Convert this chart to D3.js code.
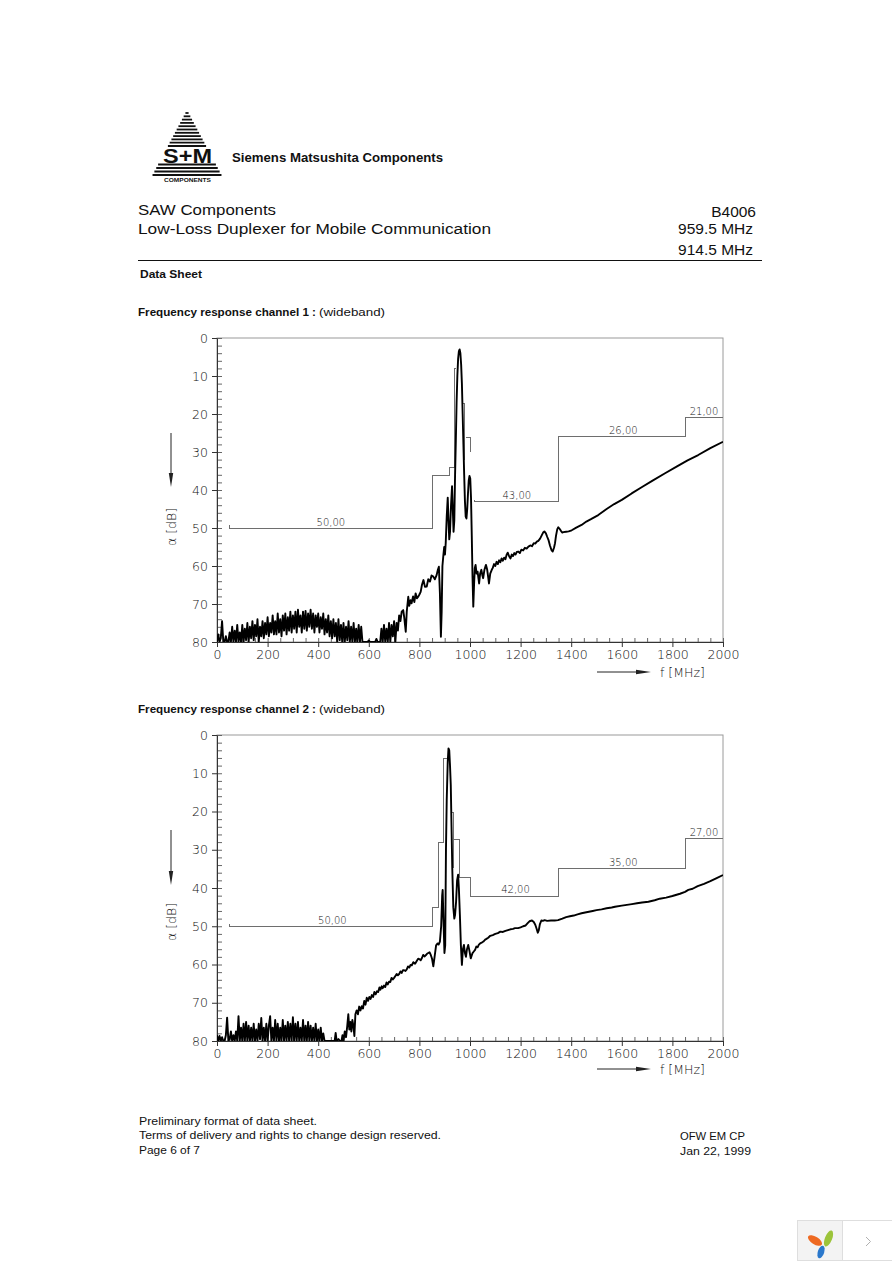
<!DOCTYPE html>
<html><head><meta charset="utf-8">
<script src="https://cdn.jsdelivr.net/npm/d3@7"></script>
<style>
html,body{margin:0;padding:0;background:#fff;}
svg{display:block;}
</style></head><body>
<script>
// ---------------- DATA ----------------
const yTicks = [0,10,20,30,40,50,60,70,80];
const xTicks = [0,200,400,600,800,1000,1200,1400,1600,1800,2000];

// Channel 1: noise floor samples every 5 MHz from 0 to 705 MHz (attenuation dB)
const ch1NoiseStep = 5;
const ch1NoiseLoss = [
80,78,80,79,74.5,80,80,78.5,80,80,77.5,80,76,80,77,80,75.5,80,77.5,80,
75.5,80,76.5,79.5,75,80,76,79,74.5,79.5,75.5,78.5,74,80,76,78.5,74.5,79,75,78,
73.5,78.5,75,77.5,73,78,74.5,78,72.5,77.5,74,78.5,73,77,72.5,78,73.5,77,72,77.5,
73,76.5,72,77.5,71.5,76,73,77.5,72,76.5,71.8,77,72.5,76,71.5,76.5,72.5,77.5,73,76,
72.5,77.5,73.5,76.5,72.5,78,74,77.5,73,78.5,74.5,79,74,78.5,75,80,74,79.5,75.5,80,
75,80,76,79.5,74.5,80,76,80,75,80,76.5,80,75.5,80,76,80,80,80,80,80,
79.6,80,80,80,80,80,79.2,80,80,80,76.5,80,75.5,80,76.5,80,75,80,75.5,78.5,74.5,80
];
// Channel 1: response above 705 MHz [MHz, dB]
const ch1Points = [
[710,75],[715,77],[720,73],[725,74.5],[730,72],[736,71.6],[740,73.5],[746,77.3],[750,72],[756,68.1],
[760,70.5],[765,69],[769,69.8],[775,68],[780,69.5],[785,67.2],[790,68.5],[796,68],[800,67.5],[805,66.8],
[810,65],[816,63.7],[822,65.5],[829,65.4],[835,63.5],[842,64.1],[848,62.5],[855,62.8],[861,63.5],[868,62.4],
[873,61],[877,60.2],[881,67],[885,78.6],[888,72],[891,60],[895,57],[898,55],[901,57],[904,54],
[908,47],[912,42],[915,48],[918,53],[921,51],[925,44],[929,39],[932,45],[935,51],[938,48],
[941,36],[944,27],[947,17],[950,10],[953,5.5],[956,3.5],[959,3],[962,4],[965,7],[968,12],
[971,20],[974,28],[977,36],[980,43],[983,47],[986,47.5],[989,45],[992,41],[995,37.5],[998,36.3],
[1001,37],[1004,42],[1007,52],[1010,63],[1013,70.7],[1016,65],[1019,60.5],[1022,59.7],[1026,62],[1030,61.5],
[1036,64.6],[1040,62],[1045,61],[1049,62.5],[1052,63.2],[1057,61],[1063,59.7],[1068,61],[1072,63],[1075,64.6],
[1080,62],[1086,61],[1090,60.5],[1095,59.5],[1100,60],[1105,58.9],[1110,59.5],[1115,58.5],[1120,59],[1125,58],
[1130,58.6],[1135,57.8],[1140,58.2],[1145,57],[1149,56.5],[1155,57.5],[1160,58],[1165,57],[1170,57.4],[1175,56.6],
[1180,57],[1185,56.3],[1191,56.2],[1197,56.6],[1203,55.7],[1210,55.9],[1217,55.2],[1224,55.4],[1231,54.9],[1238,54.6],
[1245,54.8],[1252,54],[1258,54.1],[1264,53.6],[1270,53.4],[1277,52.8],[1283,52],[1289,51.2],[1294,50.9],[1300,51.4],
[1305,52.3],[1310,53.1],[1316,54.6],[1322,55.8],[1327,56.2],[1332,55.2],[1336,54],[1340,52],[1345,50.3],[1349,49.8],
[1354,50.2],[1360,50.8],[1365,51.2],[1369,51.1],[1380,51],[1390,50.9],[1402,50.6],[1420,49.9],[1441,49.2],[1460,48.3],
[1480,47.6],[1507,46.6],[1540,45],[1570,43.7],[1600,42.6],[1639,40.9],[1680,39.2],[1720,37.6],[1771,35.6],[1820,33.7],
[1860,32.2],[1902,30.8],[1950,29],[2000,27.3]
];
// Channel 1 tolerance scheme (grey step lines)
const ch1Limits = [
  [[50,49.3],[50,50],[852,50],[852,36.1],[918,36.1],[918,34],[938,34],[938,8],[943,8]],
  [[968,17.2],[980,17.2],[980,32.1]],
  [[983,26.1],[1003,26.1],[1003,29.9]],
  [[1016,42.5],[1016,43],[1350,43],[1350,26],[1850,26],[1850,21],[2000,21]]
];
const ch1LimitLabels = [[450,50,"50,00"],[1185,43,"43,00"],[1606,26,"26,00"],[1925,21,"21,00"]];

// Channel 2: noise floor samples every 5 MHz from 0 to 425 MHz
const ch2NoiseStep = 5;
const ch2NoiseLoss = [
78.5,80,78.7,80,79,80,80,78.5,73.9,80,79.5,77.5,80,78.5,80,77.5,80,73.5,80,76.5,
80,75.5,80,75,80,76,80,76.5,80,75.5,80,77,80,75.5,79.5,74,80,76.5,80,75.5,
80,76,73.5,80,76.5,80,74.5,80,75.5,80,76.5,80,74.5,80,76,80,75,80,75.5,80,
73.8,80,75.5,80,75,80,76.5,80,74.5,80,76,80,75,80,76,80,76.5,80,75.5,80,
77,80,76.5,80,78,80
];
const ch2Points = [
[430,80],[465,80],[469,77.9],[473,80],[480,79.5],[486,80],[492,80],[496,78.5],[500,80],[505,77.5],
[510,79],[515,76],[519,73],[523,77],[527,75],[531,77.5],[535,74.5],[539,76],[543,78.7],[547,73],
[552,72],[557,73],[562,71],[567,72],[572,70.9],[577,71.5],[582,69.5],[587,70.5],[592,68.7],[597,69.5],
[602,68.5],[607,69],[612,68],[617,68.5],[622,67.2],[627,67.8],[632,67],[637,67.2],[642,66],[646,66.6],
[651,65.7],[655,66.2],[660,65.5],[665,65.9],[670,64.7],[675,65.2],[680,64.5],[685,64.6],[690,63.5],[695,63.9],
[700,63.5],[705,63],[710,62.5],[715,62.8],[720,62.5],[725,61.8],[730,62.2],[735,61.5],[740,61.5],[745,61.7],
[750,61.3],[755,60.5],[760,60.8],[765,60.1],[770,60.2],[776,59.4],[783,59.8],[790,59],[795,58.5],[800,58.6],
[805,58.9],[810,58.3],[815,57.5],[820,57.9],[825,57.6],[830,57.2],[835,57],[840,56.8],[845,57.5],[850,58.5],
[855,60.5],[860,58],[866,55],[872,54.5],[876,54.8],[881,54],[886,50],[890,42],[892,40.5],[895,48],
[899,57],[902,55],[905,30],[908,17],[912,7],[915,3.5],[918,4],[921,8],[924,13],[927,24],
[930,35],[934,45],[938,48],[941,47],[945,43.6],[949,38],[953,36.5],[956,40],[960,47],[964,55],
[968,60.1],[972,56],[976,54.9],[980,57],[984,58],[988,56],[993,54.9],[998,56.5],[1003,58.4],[1010,57],
[1015,56.6],[1020,56.2],[1025,55.3],[1030,55.5],[1035,54.8],[1040,54.5],[1046,54.3],[1053,54],[1060,53.5],[1065,53.3],
[1072,53],[1080,52.5],[1090,52.3],[1100,52],[1110,51.8],[1120,51.4],[1130,51.5],[1140,51.2],[1150,51],[1160,50.8],
[1170,50.7],[1178,50.5],[1190,50.5],[1200,50.3],[1210,50],[1220,49.8],[1228,49.2],[1235,48.7],[1245,48.5],[1252,48.9],
[1258,49.6],[1263,50.6],[1268,51.7],[1272,51],[1276,49.5],[1282,48.5],[1288,48.6],[1295,48.4],[1305,48.6],[1320,48.5],
[1335,48.5],[1348,48.4],[1365,48],[1380,47.6],[1395,47.4],[1410,47.2],[1425,46.9],[1441,46.6],[1455,46.4],[1470,46.2],
[1485,46],[1500,45.8],[1520,45.6],[1540,45.3],[1560,45.1],[1573,44.9],[1600,44.6],[1620,44.4],[1640,44.2],[1660,44],
[1680,43.8],[1705,43.6],[1730,43.2],[1750,42.8],[1775,42.5],[1800,42.1],[1830,41.5],[1850,41],[1863,40.5],[1880,40.2],
[1900,39.5],[1925,38.9],[1950,38.2],[1975,37.4],[2000,36.6]
];
const ch2Limits = [
  [[50,49.3],[50,50],[850,50],[850,45.1],[875,45.1],[875,28.2],[897,28.2],[897,6.1],[908,6.1]],
  [[929,20.2],[934,20.2],[934,34.8]],
  [[938,27.2],[958,27.2],[958,37.2],[1001,37.2],[1001,42.1],[1350,42.1],[1350,35],[1850,35],[1850,27],[2000,27]]
];
const ch2LimitLabels = [[456,50,"50,00"],[1180,42,"42,00"],[1606,35,"35,00"],[1925,27,"27,00"]];

// ---------------- DRAWING ----------------
const W = 892, H = 1263;
const svg = d3.select("body").append("svg").attr("width", W).attr("height", H);
svg.append("rect").attr("width", W).attr("height", H).attr("fill", "#fff");

const sansFont = "'Liberation Sans', Arial, sans-serif";
const narrowFont = "'Liberation Sans Narrow', 'Liberation Sans', Arial, sans-serif";
const lightFont = "'DejaVu Sans', sans-serif";

// ---- Logo ----
const logo = svg.append("g");
const apex = [187, 110], baseY = 176, baseHalf = 35;
const stripeYs = [113,116.3,119.6,122.9,126.2,129.5,132.8,136.1,139.4,142.7,146,164.5,168,171.5,175];
stripeYs.forEach(yy => {
  const h = baseHalf * (yy - apex[1]) / (baseY - apex[1]);
  logo.append("line").attr("x1", apex[0]-h).attr("x2", apex[0]+h).attr("y1", yy).attr("y2", yy)
    .attr("stroke", "#111").attr("stroke-width", 1.8);
});
logo.append("text").attr("x", 187.5).attr("y", 162.8).attr("text-anchor","middle")
  .attr("font-family", sansFont).attr("font-weight","bold").attr("font-size", 21)
  .attr("textLength", 49).attr("lengthAdjust","spacingAndGlyphs").attr("fill","#111").text("S+M");
logo.append("text").attr("x", 187.5).attr("y", 182).attr("text-anchor","middle")
  .attr("font-family", sansFont).attr("font-weight","bold").attr("font-size", 6)
  .attr("textLength", 47).attr("lengthAdjust","spacingAndGlyphs").attr("fill","#111").text("COMPONENTS");
svg.append("text").attr("x", 232).attr("y", 162).attr("font-family", sansFont).attr("font-weight","bold")
  .attr("font-size", 12.5).attr("textLength", 211).attr("lengthAdjust","spacingAndGlyphs")
  .attr("fill","#111").text("Siemens Matsushita Components");

// ---- Header ----
function txt(x, y, s, opts) {
  const t = svg.append("text").attr("x", x).attr("y", y).text(s)
    .attr("font-family", opts.font || sansFont).attr("font-size", opts.size || 12)
    .attr("fill", opts.fill || "#111");
  if (opts.weight) t.attr("font-weight", opts.weight);
  if (opts.anchor) t.attr("text-anchor", opts.anchor);
  if (opts.len) t.attr("textLength", opts.len).attr("lengthAdjust", "spacingAndGlyphs");
  return t;
}
txt(138, 215, "SAW Components", {size: 15.5, len: 138});
txt(138, 234, "Low-Loss Duplexer for Mobile Communication", {size: 15.5, len: 353});
txt(756, 217, "B4006", {size: 15.5, anchor: "end"});
txt(753, 234, "959.5 MHz", {size: 15.5, anchor: "end"});
txt(753, 255, "914.5 MHz", {size: 15.5, anchor: "end"});
svg.append("line").attr("x1", 138).attr("x2", 762).attr("y1", 260.5).attr("y2", 260.5)
  .attr("stroke", "#111").attr("stroke-width", 1);
txt(140, 278, "Data Sheet", {size: 11, weight: "bold", font: narrowFont, len: 62});

function chartTitle(y, ch) {
  txt(138, y, "Frequency response channel " + ch + " :", {size: 11, weight: "bold", font: narrowFont, len: 178});
  txt(319, y, "(wideband)", {size: 11, font: narrowFont, len: 66});
}
chartTitle(316, 1);
chartTitle(713, 2);

// ---- Charts ----
const x = d3.scaleLinear().domain([0, 2000]).range([217, 723]);

function drawChart(cfg, idx) {
  const y = d3.scaleLinear().domain([0, 80]).range([cfg.top, cfg.bottom]);
  const g = svg.append("g");
  // frame
  g.append("rect").attr("x", x(0)).attr("y", y(0)).attr("width", x(2000)-x(0)).attr("height", y(80)-y(0))
    .attr("fill", "none").attr("stroke", "#9a9a9a").attr("stroke-width", 1);
  // clip
  const cid = "clip" + idx;
  svg.append("clipPath").attr("id", cid).append("rect")
    .attr("x", x(0)).attr("y", y(0)-1).attr("width", x(2000)-x(0)).attr("height", y(80)-y(0)+1);

  // minor ticks (inside)
  const yMinor = d3.range(0, 81, 2);
  g.append("g").attr("transform", `translate(${x(0)},0)`)
    .call(d3.axisRight(y).tickValues(yMinor).tickSize(5).tickFormat(""))
    .call(s => s.select(".domain").remove())
    .selectAll("line").attr("stroke", "#666");
  const xMinor = d3.range(0, 2001, 50);
  g.append("g").attr("transform", `translate(0,${y(80)})`)
    .call(d3.axisTop(x).tickValues(xMinor).tickSize(4).tickFormat(""))
    .call(s => s.select(".domain").remove())
    .selectAll("line").attr("stroke", "#666");

  // major axes
  const ya = g.append("g").attr("transform", `translate(${x(0)},0)`)
    .call(d3.axisLeft(y).tickValues(yTicks).tickSize(5).tickPadding(4).tickSizeOuter(0).tickFormat(d3.format("d")));
  ya.select(".domain").attr("stroke", "#333");
  ya.selectAll("line").attr("stroke", "#333");
  ya.selectAll("text").attr("font-family", lightFont).attr("font-weight", 200).attr("font-size", 12.5)
    .attr("fill", "#111");
  const xa = g.append("g").attr("transform", `translate(0,${y(80)})`)
    .call(d3.axisBottom(x).tickValues(xTicks).tickSize(5).tickPadding(3).tickSizeOuter(0).tickFormat(d3.format("d")));
  xa.select(".domain").attr("stroke", "#333");
  xa.selectAll("line").attr("stroke", "#333");
  xa.selectAll("text").attr("font-family", lightFont).attr("font-weight", 200).attr("font-size", 12.5)
    .attr("fill", "#111");

  // limit lines
  const lim = d3.line().x(d => x(d[0])).y(d => y(d[1]));
  cfg.limits.forEach(seg => {
    g.append("path").attr("d", lim(seg)).attr("fill", "none").attr("stroke", "#6e6e6e").attr("stroke-width", 1)
      .attr("shape-rendering", "crispEdges");
  });
  cfg.labels.forEach(l => {
    g.append("text").attr("x", x(l[0])).attr("y", y(l[1]) - 2.5).attr("text-anchor", "middle")
      .attr("font-family", lightFont).attr("font-weight", 200).attr("font-size", 10).attr("fill", "#111")
      .text(l[2]);
  });

  // response curve
  const pts = cfg.noise.map((v, i) => [i * cfg.step, v]).concat(cfg.points);
  const line = d3.line().x(d => x(d[0])).y(d => y(Math.min(80, d[1])));
  g.append("path").attr("d", line(pts)).attr("clip-path", `url(#${cid})`)
    .attr("fill", "none").attr("stroke", "#000").attr("stroke-width", 1.9)
    .attr("stroke-linejoin", "round");

  // y-axis title with arrow
  const ax = 171;
  g.append("line").attr("x1", ax).attr("x2", ax).attr("y1", cfg.yArrow[0]).attr("y2", cfg.yArrow[1] - 12)
    .attr("stroke", "#222").attr("stroke-width", 1);
  g.append("path").attr("d", `M${ax-2.2},${cfg.yArrow[1]-14} L${ax+2.2},${cfg.yArrow[1]-14} L${ax},${cfg.yArrow[1]} Z`)
    .attr("fill", "#222");
  g.append("text").attr("transform", `translate(${ax+4.5},${cfg.yTitle}) rotate(-90)`)
    .attr("text-anchor", "middle").attr("font-family", lightFont).attr("font-weight", 200)
    .attr("font-size", 12.5).attr("fill", "#111").text("α  [dB]");

  // x-axis title with arrow
  const ay = cfg.xArrow;
  g.append("line").attr("x1", 597).attr("x2", 637).attr("y1", ay).attr("y2", ay).attr("stroke", "#222").attr("stroke-width", 1);
  g.append("path").attr("d", `M636,${ay-2.2} L636,${ay+2.2} L651,${ay} Z`).attr("fill", "#222");
  g.append("text").attr("x", 660).attr("y", ay + 5).attr("font-family", lightFont).attr("font-weight", 200)
    .attr("font-size", 12.5).attr("fill", "#111").text("f  [MHz]");
}

drawChart({top: 338, bottom: 642, noise: ch1NoiseLoss, step: ch1NoiseStep, points: ch1Points,
  limits: ch1Limits, labels: ch1LimitLabels, yArrow: [433, 487], yTitle: 527, xArrow: 672}, 1);
drawChart({top: 735, bottom: 1041, noise: ch2NoiseLoss, step: ch2NoiseStep, points: ch2Points,
  limits: ch2Limits, labels: ch2LimitLabels, yArrow: [830, 885], yTitle: 922, xArrow: 1069}, 2);

// ---- Footer ----
txt(139, 1125, "Preliminary format of data sheet.", {size: 11.5, font: narrowFont, len: 178});
txt(139, 1139, "Terms of delivery and rights to change design reserved.", {size: 11.5, font: narrowFont, len: 302});
txt(139, 1154, "Page 6 of 7", {size: 11.5, font: narrowFont, len: 61});
txt(680, 1140, "OFW EM CP", {size: 11.5, font: narrowFont, len: 65});
txt(680, 1155, "Jan 22, 1999", {size: 11.5, font: narrowFont, len: 71});

// ---- Bottom-right widget ----
const wg = svg.append("g");
wg.append("rect").attr("x", 797.5).attr("y", 1220.5).attr("width", 100).attr("height", 40)
  .attr("fill", "#fff").attr("stroke", "#dedede");
wg.append("rect").attr("x", 798).attr("y", 1221).attr("width", 44).attr("height", 39).attr("fill", "#f3f3f3");
wg.append("line").attr("x1", 842.5).attr("x2", 842.5).attr("y1", 1221).attr("y2", 1260).attr("stroke", "#dedede");
wg.append("ellipse").attr("cx", 0).attr("cy", 0).attr("rx", 8).attr("ry", 3.8)
  .attr("transform", "translate(815,1240.5) rotate(32)").attr("fill", "#ee6a22");
wg.append("ellipse").attr("cx", 0).attr("cy", 0).attr("rx", 8.5).attr("ry", 3.6)
  .attr("transform", "translate(828.5,1238.5) rotate(-68)").attr("fill", "#9cc43a");
wg.append("ellipse").attr("cx", 0).attr("cy", 0).attr("rx", 6.5).attr("ry", 3.2)
  .attr("transform", "translate(821,1252) rotate(-72)").attr("fill", "#2a78cc");
wg.append("path").attr("d", "M866,1237 L870.5,1241.5 L866,1246").attr("fill", "none")
  .attr("stroke", "#b0b0b0").attr("stroke-width", 1);
</script>
</body></html>
